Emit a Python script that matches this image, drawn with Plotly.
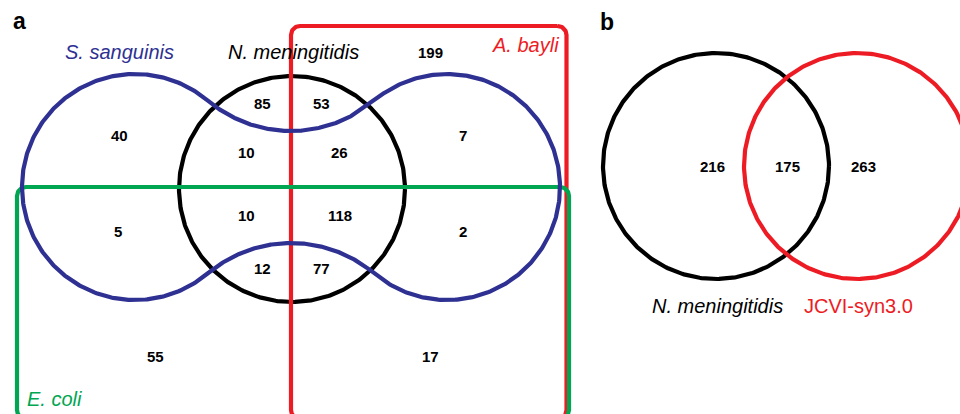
import numpy as np
import plotly.graph_objects as go

# ---------------- data ----------------
# Panel a: four-set Venn region counts
a_counts = [199, 85, 53, 40, 10, 26, 7, 10, 118, 5, 2, 12, 77, 55, 17]
a_set_names = ["S. sanguinis", "N. meningitidis", "A. bayli", "E. coli"]
# Panel b: two-set Venn region counts
b_counts = [216, 175, 263]
b_set_names = ["N. meningitidis", "JCVI-syn3.0"]
panel_letters = ["a", "b"]

# ---------------- geometry / style ----------------
W, H = 960, 414
BLUE = "#2E3192"
RED = "#ED1C24"
GREEN = "#00A651"
BLACK = "#000000"
LW = 4.2
FONT = "Liberation Sans, Arial, Helvetica, sans-serif"

a_count_pos = [(430, 52), (262, 103), (321, 103), (119, 135), (246, 152),
               (339, 152), (463, 135), (246, 215), (340, 215), (118, 231),
               (463, 231), (262, 268), (321, 268), (155, 356), (430, 356)]
b_count_pos = [(712, 166), (787, 166), (863, 166)]


def circle_pts(cx, cy, r, n=400):
    t = np.linspace(0, 2 * np.pi, n)
    return cx + r * np.cos(t), cy + r * np.sin(t)


def rounded_rect(x0, y0, x1, y1, rad, n=20):
    xs, ys = [], []
    corners = [
        (x1 - rad, y0 + rad, -np.pi / 2, 0),
        (x1 - rad, y1 - rad, 0, np.pi / 2),
        (x0 + rad, y1 - rad, np.pi / 2, np.pi),
        (x0 + rad, y0 + rad, np.pi, 3 * np.pi / 2),
    ]
    for cx, cy, a0, a1 in corners:
        t = np.linspace(a0, a1, n)
        xs.extend(cx + rad * np.cos(t))
        ys.extend(cy + rad * np.sin(t))
    xs.append(xs[0])
    ys.append(ys[0])
    return np.array(xs), np.array(ys)


def blue_shape(lcx, rcx, cy, R, dip):
    # two circles joined by tangent arcs above and below the centre
    mx = (lcx + rcx) / 2
    d = mx - lcx
    h = cy - dip
    r = (d ** 2 + h ** 2 - R ** 2) / (2 * (R - h))
    yc_up = dip - r
    yc_dn = cy + (cy - yc_up)
    ang_up = np.arctan2(yc_up - cy, mx - lcx)  # negative angle
    xs, ys = [], []
    t = np.linspace(ang_up, -2 * np.pi - ang_up, 300)
    xs.extend(lcx + R * np.cos(t)); ys.extend(cy + R * np.sin(t))
    p0 = np.arctan2(ys[-1] - yc_dn, xs[-1] - mx)
    t = np.linspace(p0, -np.pi - p0, 200)
    xs.extend(mx + r * np.cos(t)); ys.extend(yc_dn + r * np.sin(t))
    q0 = np.arctan2(ys[-1] - cy, xs[-1] - rcx)
    t = np.linspace(q0, -q0, 300)
    xs.extend(rcx + R * np.cos(t)); ys.extend(cy + R * np.sin(t))
    u0 = np.arctan2(ys[-1] - yc_up, xs[-1] - mx)
    t = np.linspace(u0, np.pi - u0, 200)
    xs.extend(mx + r * np.cos(t)); ys.extend(yc_up + r * np.sin(t))
    return np.array(xs), np.array(ys)


fig = go.Figure()


def add_line(x, y, color):
    fig.add_trace(go.Scatter(x=x, y=y, mode="lines",
                             line=dict(color=color, width=LW),
                             hoverinfo="skip", showlegend=False))


# Panel a
bx, by = circle_pts(292, 189, 113)
add_line(bx, by, BLACK)
rx, ry = rounded_rect(291, 26, 566.5, 419, 9)
add_line(rx, ry, RED)
gx, gy = rounded_rect(17, 187, 569, 419, 9)
add_line(gx, gy, GREEN)
sx, sy = blue_shape(135, 447, 187, 113, 131)
add_line(sx, sy, BLUE)

# Panel b
c1x, c1y = circle_pts(716, 166, 113)
add_line(c1x, c1y, BLACK)
c2x, c2y = circle_pts(857, 166, 113)
add_line(c2x, c2y, RED)

ann = []


def txt(x, y, s, size, color=BLACK, bold=False, italic=False, xanchor="center"):
    t = s
    if bold:
        t = "<b>" + t + "</b>"
    if italic:
        t = "<i>" + t + "</i>"
    ann.append(dict(x=x, y=y, xref="x", yref="y", text=t, showarrow=False,
                    xanchor=xanchor, yanchor="middle",
                    font=dict(family=FONT, size=size, color=color)))


for v, (x, y) in zip(a_counts, a_count_pos):
    txt(x, y, str(v), 15, bold=True)
for v, (x, y) in zip(b_counts, b_count_pos):
    txt(x, y, str(v), 15, bold=True)

txt(119, 52, a_set_names[0], 20, BLUE, italic=True)
txt(293, 52, a_set_names[1], 20, BLACK, italic=True)
txt(561, 45, a_set_names[2], 20, RED, italic=True, xanchor="right")
txt(25, 399, a_set_names[3], 20, GREEN, italic=True, xanchor="left")
txt(717, 306, b_set_names[0], 20, BLACK, italic=True)
txt(858, 306, b_set_names[1], 20, RED)
txt(19, 21, panel_letters[0], 23, bold=True)
txt(607, 22, panel_letters[1], 23, bold=True)

fig.update_layout(
    width=W, height=H,
    margin=dict(l=0, r=0, t=0, b=0),
    paper_bgcolor="white", plot_bgcolor="white",
    xaxis=dict(range=[0, W], visible=False, fixedrange=True),
    yaxis=dict(range=[H, 0], visible=False, fixedrange=True),
    annotations=ann,
    showlegend=False,
)

fig.write_html(
    "out.html",
    config={"displayModeBar": False},
    post_script="document.body.style.margin='0';document.body.style.overflow='hidden';",
)
